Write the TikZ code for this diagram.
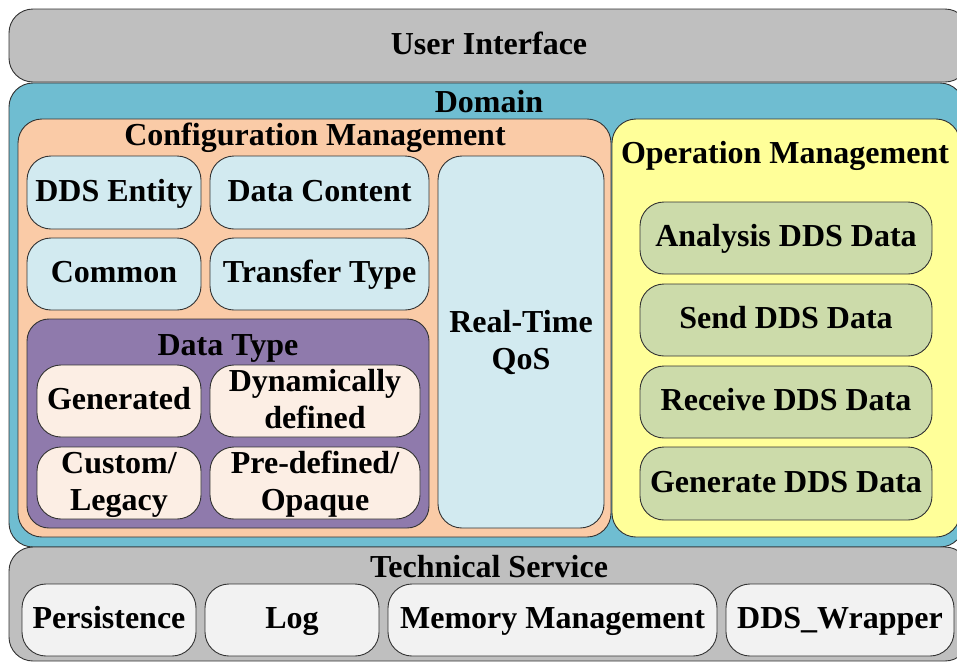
\documentclass[tikz,border=0pt]{standalone}
\usepackage{fontspec}
\setmainfont{Liberation Serif}
\definecolor{uigray}{HTML}{BFBFBF}
\definecolor{domainblue}{HTML}{6FBDD1}
\definecolor{peach}{HTML}{FACBA7}
\definecolor{lightblue}{HTML}{D2EAF0}
\definecolor{purple}{HTML}{8F7AAC}
\definecolor{cream}{HTML}{FCEEE4}
\definecolor{yellowbg}{HTML}{FFFF99}
\definecolor{olive}{HTML}{CCDBAA}
\definecolor{whitegray}{HTML}{F2F2F2}
\begin{document}
\begin{tikzpicture}[x=1pt,y=-1pt,
  box/.style={draw=black!80, line width=0.9pt, rounded corners=24pt, inner sep=0pt,
    font=\fontsize{32}{37}\selectfont\bfseries, align=center, text height=24pt, text depth=7pt},
  twoline/.style={text height=61pt, text depth=7pt},
  title/.style={font=\fontsize{32}{37}\selectfont\bfseries, inner sep=0pt, anchor=base}]
\useasboundingbox (0,0) rectangle (957,662);
\clip (0,0) rectangle (957,662);
% outer layers
\node[box, fill=uigray, minimum width=960pt, minimum height=73pt, text height=25pt, text depth=7pt] (ui) at (489,45.5) {User Interface};
\node[box, fill=domainblue, minimum width=955pt, minimum height=464pt] (domain) at (486.5,315) {};
\node[box, fill=uigray, minimum width=960pt, minimum height=114pt] (tech) at (489,604) {};
\node[title] (domaint) at (489,112) {Domain};
\node[title] (techt) at (489,577) {Technical Service};
% configuration management
\node[box, fill=peach, minimum width=593pt, minimum height=418pt] (cfg) at (314.5,328) {};
\node[title] (cfgt) at (315,145) {Configuration Management};
\node[box, fill=lightblue, minimum width=174pt, minimum height=73pt] (ent) at (114,192.5) {DDS Entity};
\node[box, fill=lightblue, minimum width=219pt, minimum height=73pt] (cont) at (319.5,192.5) {Data Content};
\node[box, fill=lightblue, minimum width=174pt, minimum height=72pt] (common) at (114,274) {Common};
\node[box, fill=lightblue, minimum width=219pt, minimum height=72pt] (transfer) at (319.5,274) {Transfer Type};
\node[box, twoline, fill=lightblue, minimum width=166pt, minimum height=372pt] (qos) at (521,342) {Real-Time\\QoS};
% data type
\node[box, fill=purple, rounded corners=22pt, minimum width=402pt, minimum height=209pt] (dtype) at (228,423.5) {};
\node[title] (dtypet) at (228,355) {Data Type};
\node[box, fill=cream, minimum width=164pt, minimum height=72pt] (gen) at (119,401) {Generated};
\node[box, twoline, fill=cream, minimum width=210pt, minimum height=72pt] (dyn) at (315,401) {Dynamically\\defined};
\node[box, twoline, fill=cream, minimum width=164pt, minimum height=72pt] (cust) at (119,483) {Custom/\\Legacy};
\node[box, twoline, fill=cream, minimum width=210pt, minimum height=72pt] (pre) at (315,483) {Pre-defined/\\Opaque};
% operation management
\node[box, fill=yellowbg, minimum width=348pt, minimum height=418pt] (op) at (786,328) {};
\node[title] (opt) at (785,163) {Operation Management};
\node[box, fill=olive, minimum width=292pt, minimum height=72pt] (ana) at (786,238) {Analysis DDS Data};
\node[box, fill=olive, minimum width=292pt, minimum height=72pt] (send) at (786,320) {Send DDS Data};
\node[box, fill=olive, minimum width=292pt, minimum height=72pt] (recv) at (786,402) {Receive DDS Data};
\node[box, fill=olive, minimum width=292pt, minimum height=73pt] (genr) at (786,483.5) {Generate DDS Data};
% technical service
\node[box, fill=whitegray, minimum width=174pt, minimum height=72pt] (pers) at (109,620) {Persistence};
\node[box, fill=whitegray, minimum width=174pt, minimum height=72pt] (log) at (292,620) {Log};
\node[box, fill=whitegray, minimum width=329pt, minimum height=72pt] (mem) at (552.5,620) {Memory Management};
\node[box, fill=whitegray, minimum width=228pt, minimum height=72pt] (wrap) at (840,620) {DDS\_Wrapper};
\end{tikzpicture}
\end{document}
